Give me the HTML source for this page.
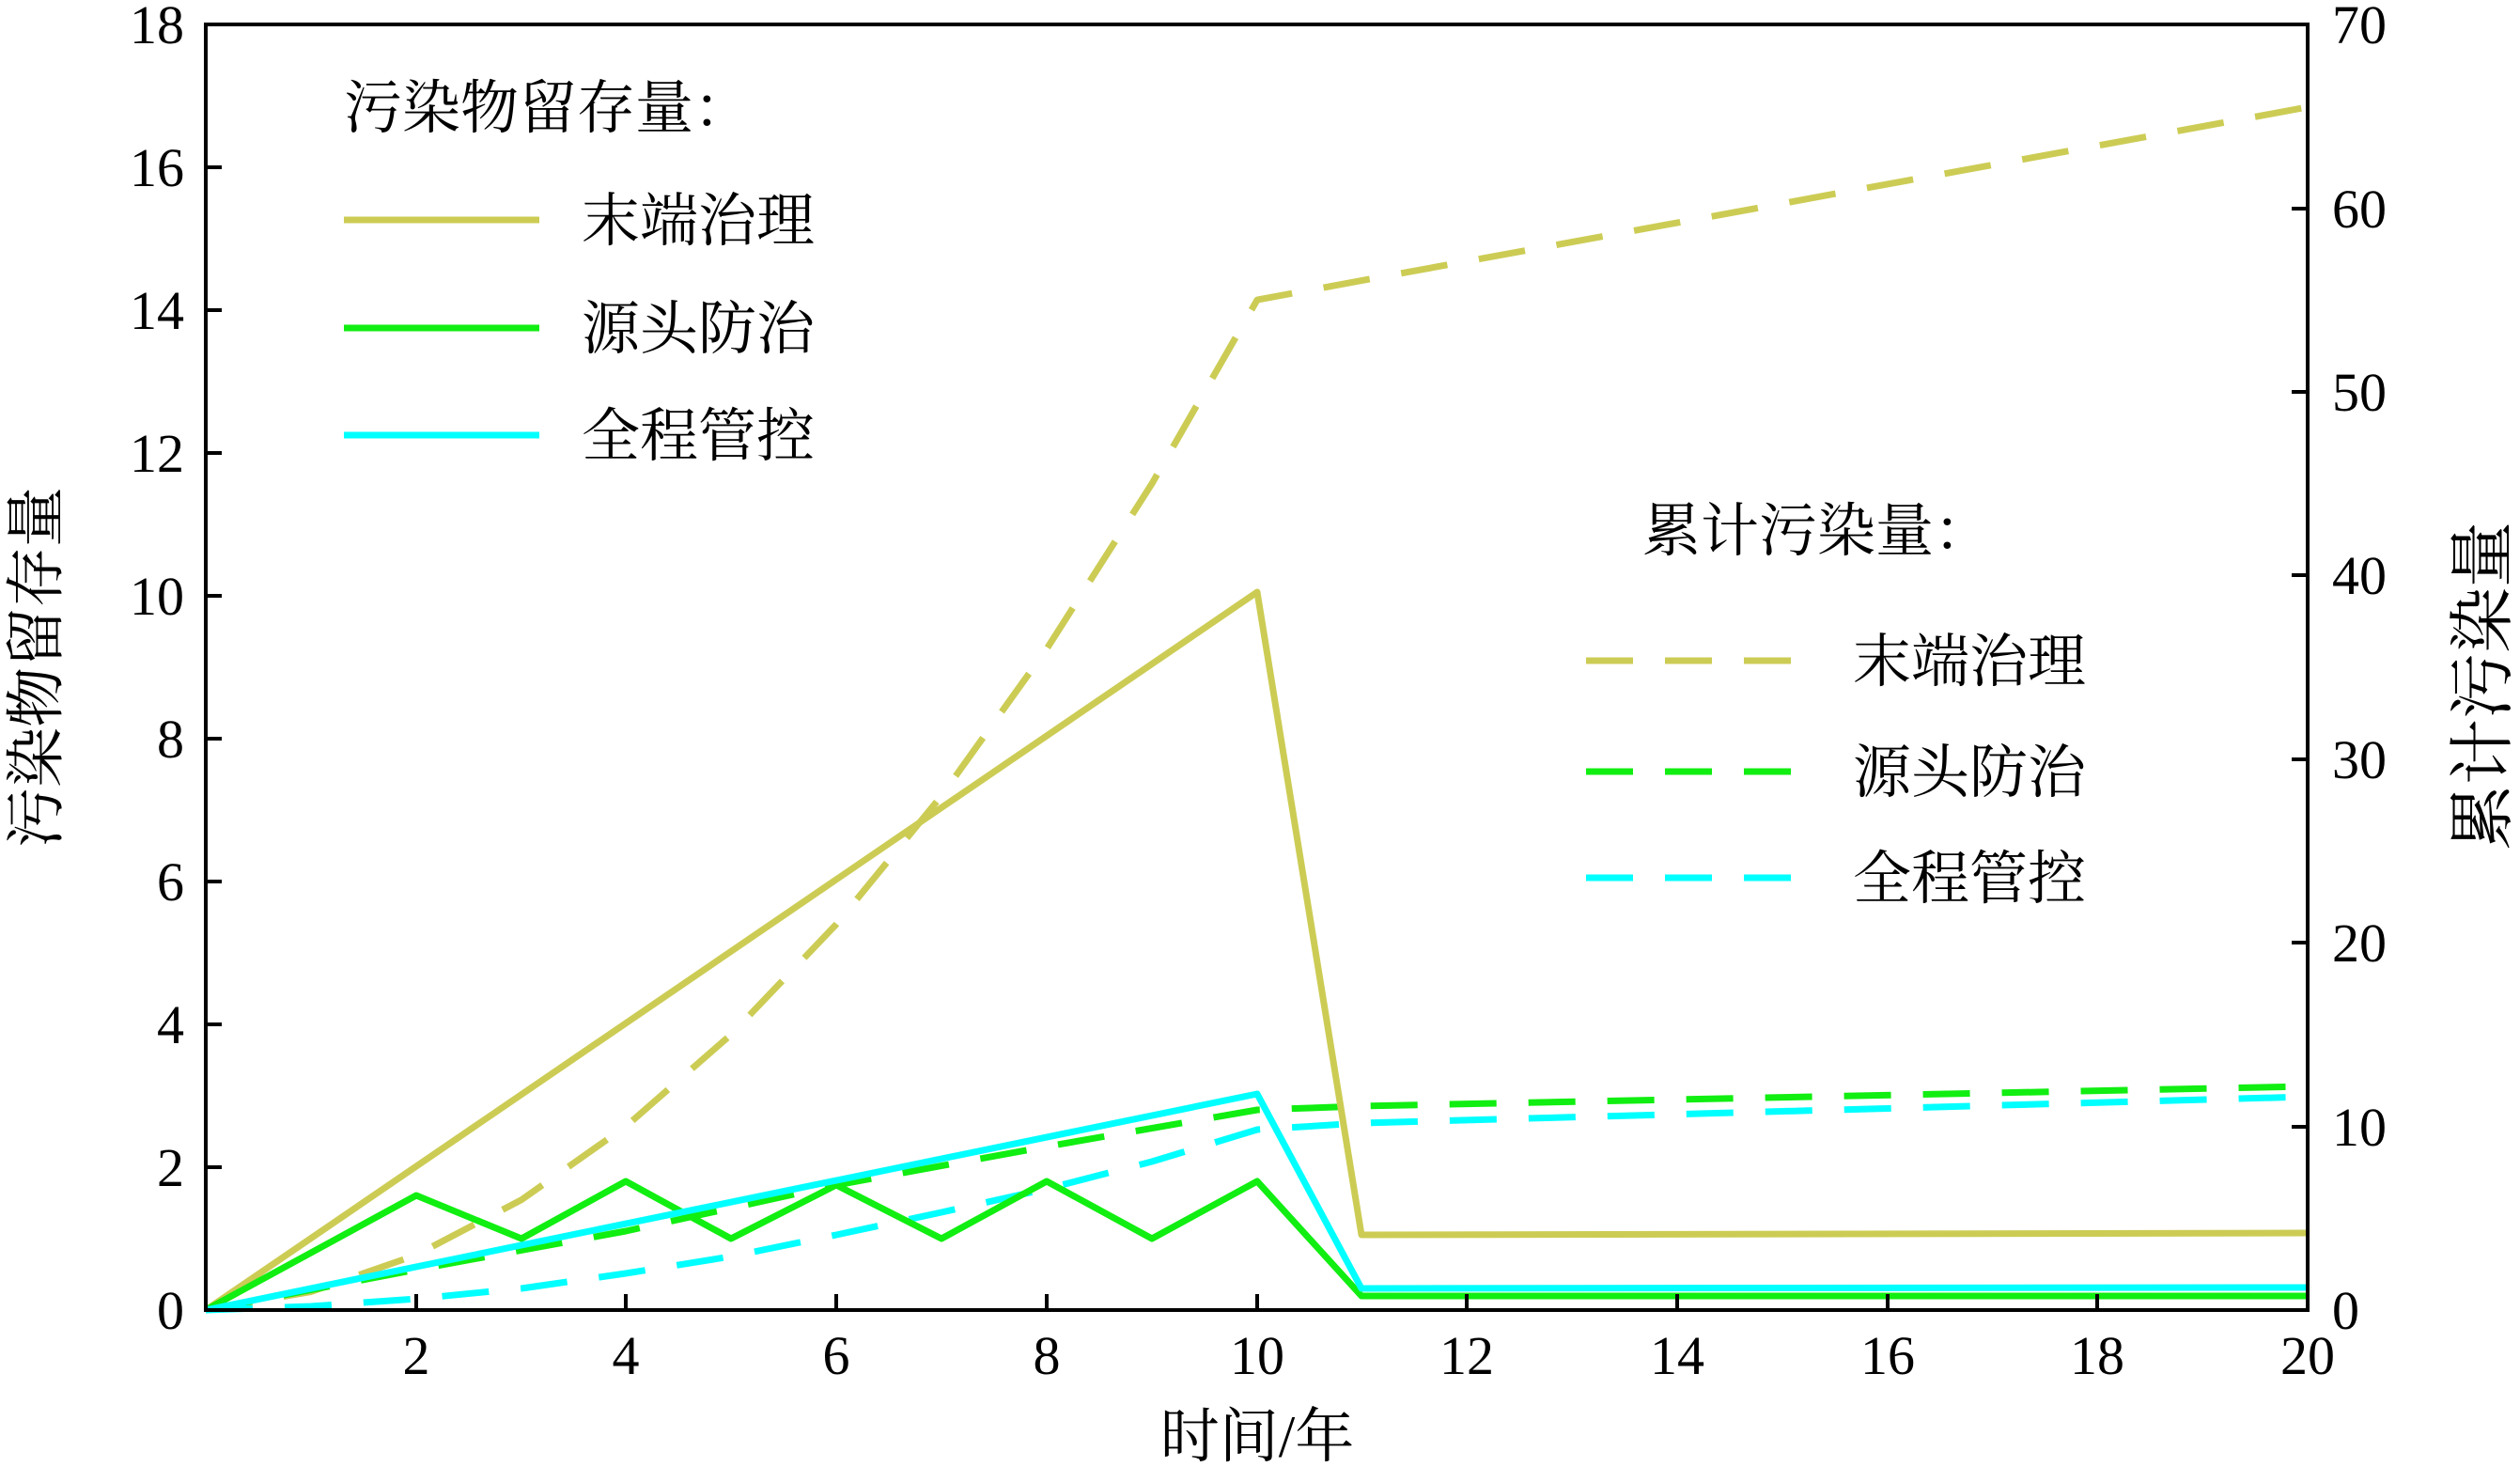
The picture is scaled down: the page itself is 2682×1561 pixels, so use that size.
<!DOCTYPE html>
<html><head><meta charset="utf-8"><style>
html,body{margin:0;padding:0;background:#fff;}
svg{display:block;}
text{font-family:"Liberation Serif","Noto Serif CJK SC",serif;fill:#000;}
</style></head><body>
<svg width="2682" height="1561" viewBox="0 0 2682 1561" xmlns="http://www.w3.org/2000/svg">
<g fill="none" stroke-width="7" stroke-linejoin="round">
<polyline stroke="#cccc55" stroke-dasharray="50,34" points="219,1394 331,1374.5 443,1335.4 555,1276.7 666,1198.6 778,1100.9 890,983.6 1002,846.8 1114,690.5 1226,514.6 1338,319.1 1449,298.6 2456,114"/>
<polyline stroke="#11ee11" stroke-dasharray="50,34" points="219,1394 443,1351 666,1310 890,1261 1114,1220 1338,1181 1449,1177 2456,1156"/>
<polyline stroke="#00ffff" stroke-dasharray="50,34" points="219,1394 331,1390 443,1382 555,1371 666,1355 778,1337 890,1314 1002,1290 1114,1265 1226,1236 1338,1202 1449,1195 2456,1167"/>
<polyline stroke="#cccc55" points="219,1394 1338,630 1449,1314 2456,1312"/>
<polyline stroke="#11ee11" points="219,1394 443,1272 555,1318 666,1257 778,1318 890,1261 1002,1318 1114,1257 1226,1318 1338,1257 1449,1379 2456,1379"/>
<polyline stroke="#00ffff" points="219,1394 1338,1164 1449,1371 2456,1370"/>
</g>
<rect x="219" y="26" width="2237" height="1368" fill="none" stroke="#000" stroke-width="4"/>
<g stroke="#000" stroke-width="4">
<line x1="443" y1="1394" x2="443" y2="1377"/><line x1="666" y1="1394" x2="666" y2="1377"/>
<line x1="890" y1="1394" x2="890" y2="1377"/><line x1="1114" y1="1394" x2="1114" y2="1377"/>
<line x1="1338" y1="1394" x2="1338" y2="1377"/><line x1="1561" y1="1394" x2="1561" y2="1377"/>
<line x1="1785" y1="1394" x2="1785" y2="1377"/><line x1="2009" y1="1394" x2="2009" y2="1377"/>
<line x1="2232" y1="1394" x2="2232" y2="1377"/>
<line x1="219" y1="1242" x2="236" y2="1242"/><line x1="219" y1="1090" x2="236" y2="1090"/>
<line x1="219" y1="938" x2="236" y2="938"/><line x1="219" y1="786" x2="236" y2="786"/>
<line x1="219" y1="634" x2="236" y2="634"/><line x1="219" y1="482" x2="236" y2="482"/>
<line x1="219" y1="330" x2="236" y2="330"/><line x1="219" y1="178" x2="236" y2="178"/>
<line x1="2456" y1="1199" x2="2439" y2="1199"/><line x1="2456" y1="1003" x2="2439" y2="1003"/>
<line x1="2456" y1="808" x2="2439" y2="808"/><line x1="2456" y1="612" x2="2439" y2="612"/>
<line x1="2456" y1="417" x2="2439" y2="417"/><line x1="2456" y1="222" x2="2439" y2="222"/>
</g>
<g font-size="58" text-anchor="end">
<text x="196" y="1414">0</text><text x="196" y="1262">2</text><text x="196" y="1110">4</text>
<text x="196" y="958">6</text><text x="196" y="806">8</text><text x="196" y="654">10</text>
<text x="196" y="502">12</text><text x="196" y="350">14</text><text x="196" y="198">16</text>
<text x="196" y="46">18</text>
</g>
<g font-size="58" text-anchor="middle">
<text x="443" y="1462">2</text><text x="666" y="1462">4</text><text x="890" y="1462">6</text>
<text x="1114" y="1462">8</text><text x="1338" y="1462">10</text><text x="1561" y="1462">12</text>
<text x="1785" y="1462">14</text><text x="2009" y="1462">16</text><text x="2232" y="1462">18</text>
<text x="2456" y="1462">20</text>
</g>
<g font-size="58" text-anchor="start">
<text x="2482" y="1414">0</text><text x="2482" y="1219">10</text><text x="2482" y="1023">20</text>
<text x="2482" y="828">30</text><text x="2482" y="632">40</text><text x="2482" y="437">50</text>
<text x="2482" y="242">60</text><text x="2482" y="46">70</text>
</g>
<text x="1338" y="1550" font-size="63" text-anchor="middle">时间/年</text>
<text transform="translate(46,710) rotate(-90)" font-size="64" text-anchor="middle" dominant-baseline="middle">污染物留存量</text>
<text transform="translate(2650,730) rotate(-90)" font-size="70" text-anchor="middle" dominant-baseline="middle">累计污染量</text>
<text x="366" y="136" font-size="62">污染物留存量：</text>
<g stroke-width="7">
<line x1="366" y1="234" x2="574" y2="234" stroke="#cccc55"/>
<line x1="366" y1="349" x2="574" y2="349" stroke="#11ee11"/>
<line x1="366" y1="463" x2="574" y2="463" stroke="#00ffff"/>
</g>
<g font-size="62">
<text x="619" y="256">末端治理</text><text x="619" y="371">源头防治</text><text x="619" y="485">全程管控</text>
</g>
<text x="1748" y="586" font-size="62">累计污染量：</text>
<g stroke-width="7" stroke-dasharray="50,34">
<line x1="1688" y1="703" x2="1935" y2="703" stroke="#cccc55"/>
<line x1="1688" y1="821" x2="1935" y2="821" stroke="#11ee11"/>
<line x1="1688" y1="934" x2="1935" y2="934" stroke="#00ffff"/>
</g>
<g font-size="62">
<text x="1972" y="725">末端治理</text><text x="1972" y="843">源头防治</text><text x="1972" y="956">全程管控</text>
</g>
</svg>
</body></html>
